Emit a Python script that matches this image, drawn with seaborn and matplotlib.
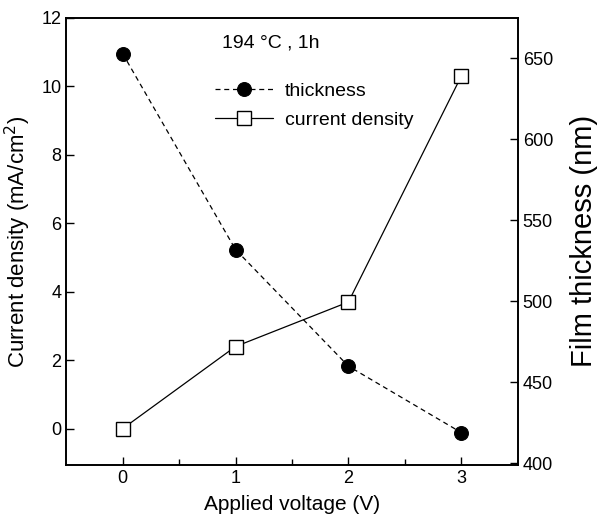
import numpy as np
import pandas as pd
import matplotlib
matplotlib.use("Agg")
import matplotlib.pyplot as plt
import seaborn as sns

voltage = [0, 1, 2, 3]
current_density = [0.0, 2.4, 3.7, 10.3]
thickness = [653, 532, 460, 419]

df = pd.DataFrame({"voltage": voltage, "current": current_density, "thickness": thickness})

sns.set_style("ticks")
plt.rcParams["font.family"] = ["Liberation Sans", "DejaVu Sans"]
plt.rcParams["xtick.direction"] = "in"
plt.rcParams["ytick.direction"] = "in"
for k in ["text.color", "axes.labelcolor", "xtick.color", "ytick.color", "axes.edgecolor"]:
    plt.rcParams[k] = "black"

fig = plt.figure(figsize=(6.07, 5.26), dpi=100)
ax = fig.add_axes([0.109, 0.116, 0.744, 0.85])
ax2 = ax.twinx()

sns.lineplot(data=df, x="voltage", y="thickness", ax=ax2, color="black", lw=0.9,
             linestyle=(0, (4, 3)), marker="o", markersize=10, markerfacecolor="black",
             markeredgecolor="black", label="thickness")
sns.lineplot(data=df, x="voltage", y="current", ax=ax, color="black", lw=0.9,
             marker="s", markersize=10, markerfacecolor="white",
             markeredgecolor="black", markeredgewidth=1.0, label="current density")

ax.set_xlim(-0.5, 3.5)
ax.set_ylim(-1.06, 12)
ax2.set_ylim(399, 675)
ax.set_xticks([0, 1, 2, 3])
ax.set_xticks([0.5, 1.5, 2.5], minor=True)
ax.set_yticks([0, 2, 4, 6, 8, 10, 12])
ax2.set_yticks([400, 450, 500, 550, 600, 650])

for a in (ax, ax2):
    for s in a.spines.values():
        s.set_linewidth(1.2)
        s.set_visible(True)
    a.tick_params(which="major", length=6, width=1.0, labelsize=13)
    a.tick_params(which="minor", length=4, width=1.0)
    a.set_facecolor("none")
ax.tick_params(top=False, right=False)
ax2.tick_params(top=False, left=False)

ax.set_xlabel("Applied voltage (V)", fontsize=15, labelpad=6)
ax.set_ylabel("Current density (mA/cm$^2$)", fontsize=16, labelpad=6)
ax2.set_ylabel("Film thickness (nm)", fontsize=21, labelpad=12)

h1, l1 = ax2.get_legend_handles_labels()
h2, l2 = ax.get_legend_handles_labels()
ax2.get_legend().remove()
ax.get_legend().remove()
ax.text(0.345, 0.944, "194 °C , 1h", transform=ax.transAxes, fontsize=14,
        ha="left", va="center")
ax.legend(h1 + h2, l1 + l2, frameon=False, fontsize=14,
          loc="upper left", bbox_to_anchor=(0.29, 0.895),
          handlelength=3.0, handletextpad=0.6, labelspacing=0.6)

fig.savefig("out.png", dpi=100)
